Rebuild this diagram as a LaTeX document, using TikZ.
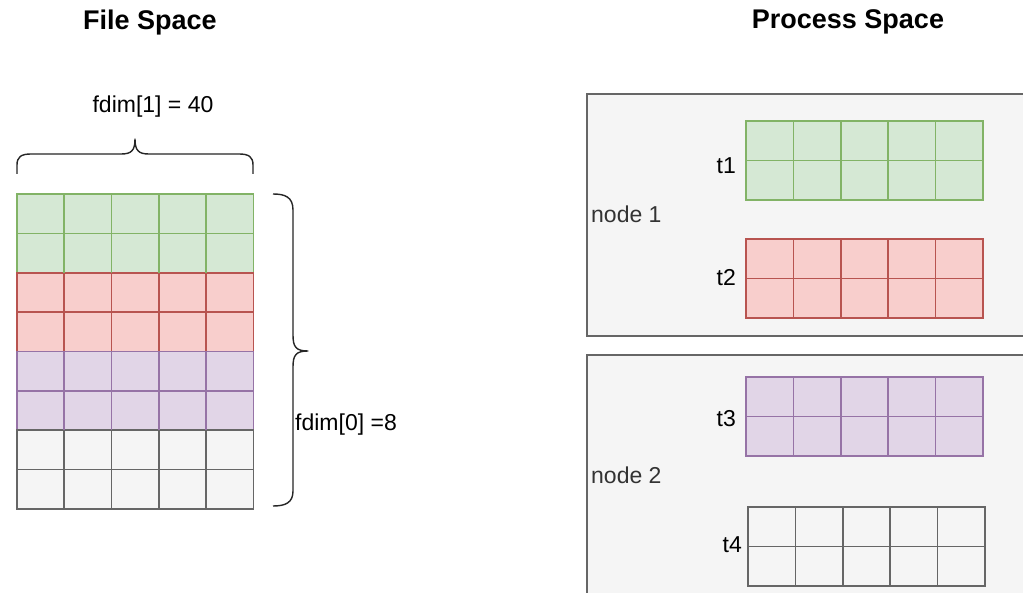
\documentclass[tikz,border=0pt]{standalone}
\usepackage{fontspec}
\setmainfont{Liberation Sans}
\usetikzlibrary{calc}

\definecolor{greenF}{HTML}{D5E8D4}\definecolor{greenS}{HTML}{82B366}
\definecolor{redF}{HTML}{F8CECC}\definecolor{redS}{HTML}{B85450}
\definecolor{purpleF}{HTML}{E1D5E7}\definecolor{purpleS}{HTML}{9673A6}
\definecolor{greyF}{HTML}{F5F5F5}\definecolor{greyS}{HTML}{666666}
\definecolor{txt}{HTML}{333333}

\tikzset{
  block/.style={line width=1.7pt, inner sep=0pt, outer sep=0pt, anchor=north west,
    minimum width=236.5pt, minimum height=78.75pt},
  greenblk/.style={block, draw=greenS, fill=greenF},
  redblk/.style={block, draw=redS, fill=redF},
  purpleblk/.style={block, draw=purpleS, fill=purpleF},
  greyblk/.style={block, draw=greyS, fill=greyF},
  container/.style={draw=greyS, fill=greyF, line width=1.5pt, inner sep=0pt, outer sep=0pt,
    anchor=north west, minimum width=460pt},
  title/.style={font=\fontsize{27}{30}\selectfont\bfseries, anchor=base, inner sep=0pt},
  label/.style={font=\fontsize{23}{26}\selectfont, inner sep=0pt},
  tlabel/.style={label, anchor=base east},
  nlabel/.style={label, anchor=base west, text=txt},
  bracepath/.style={draw=black!85, line width=1.4pt, line join=round},
}

% inner cell lines of a 2x5 block
\newcommand\cellgrid[2]{%
  \foreach \k in {1,...,4}
    \draw[line width=1.7pt, #2] ($(#1.north west)!\k/5!(#1.north east)$) --
                                ($(#1.south west)!\k/5!(#1.south east)$);
  \draw[line width=1.7pt, #2] (#1.west) -- (#1.east);
}

\begin{document}
\begin{tikzpicture}[x=1pt, y=-1pt]
\clip (0,0) rectangle (1023,593);
\fill[white] (0,0) rectangle (1023,593);

% titles
\node[title] (fstitle) at (150,30) {File Space};
\node[title] (pstitle) at (848,29) {Process Space};

% file space: 8 x 5 cells in four coloured bands
\node[greenblk]  (f1) at (17,194) {};
\node[redblk]    (f2) at (17,272.75) {};
\node[purpleblk] (f3) at (17,351.5) {};
\node[greyblk]   (f4) at (17,430.25) {};
\cellgrid{f1}{greenS}
\cellgrid{f2}{redS}
\cellgrid{f3}{purpleS}
\cellgrid{f4}{greyS}

% braces with their dimensions
\path[bracepath] (17,174) -- (17,165) .. controls (17,157) and (21,154) .. (31,154)
  -- (121,154) .. controls (131,154) and (135,151) .. (135,139)
  .. controls (135,151) and (139,154) .. (149,154)
  -- (239,154) .. controls (249,154) and (253,157) .. (253,165) -- (253,174);
\node[label, anchor=base] (fdim1) at (153,113) {fdim[1] = 40};

\path[bracepath] (273,194) .. controls (285,194) and (293,197) .. (293,210)
  -- (293,335) .. controls (293,347) and (296,351) .. (308,351)
  .. controls (296,351) and (293,355) .. (293,367)
  -- (293,491) .. controls (293,503) and (285,506) .. (273,506);
\node[label, anchor=base west] (fdim0) at (295,431) {fdim[0] =8};

% process space: one container per node
\node[container, minimum height=242pt] (node1) at (587,94) {};
\node[container, minimum height=260pt] (node2) at (587,355) {};
\node[nlabel] (n1lab) at (591,223) {node 1};
\node[nlabel] (n2lab) at (591,483) {node 2};

\node[greenblk, minimum width=237pt, minimum height=79pt]  (t1) at (746,121) {};
\node[redblk, minimum width=237pt, minimum height=79pt]    (t2) at (746,239) {};
\node[purpleblk, minimum width=237pt, minimum height=79pt] (t3) at (746,377) {};
\node[greyblk, minimum width=237pt, minimum height=79pt]   (t4) at (748,507) {};
\cellgrid{t1}{greenS}
\cellgrid{t2}{redS}
\cellgrid{t3}{purpleS}
\cellgrid{t4}{greyS}

\node[tlabel] (t1lab) at (736,174) {t1};
\node[tlabel] (t2lab) at (736,286) {t2};
\node[tlabel] (t3lab) at (736,427) {t3};
\node[tlabel] (t4lab) at (742,552) {t4};
\end{tikzpicture}
\end{document}
